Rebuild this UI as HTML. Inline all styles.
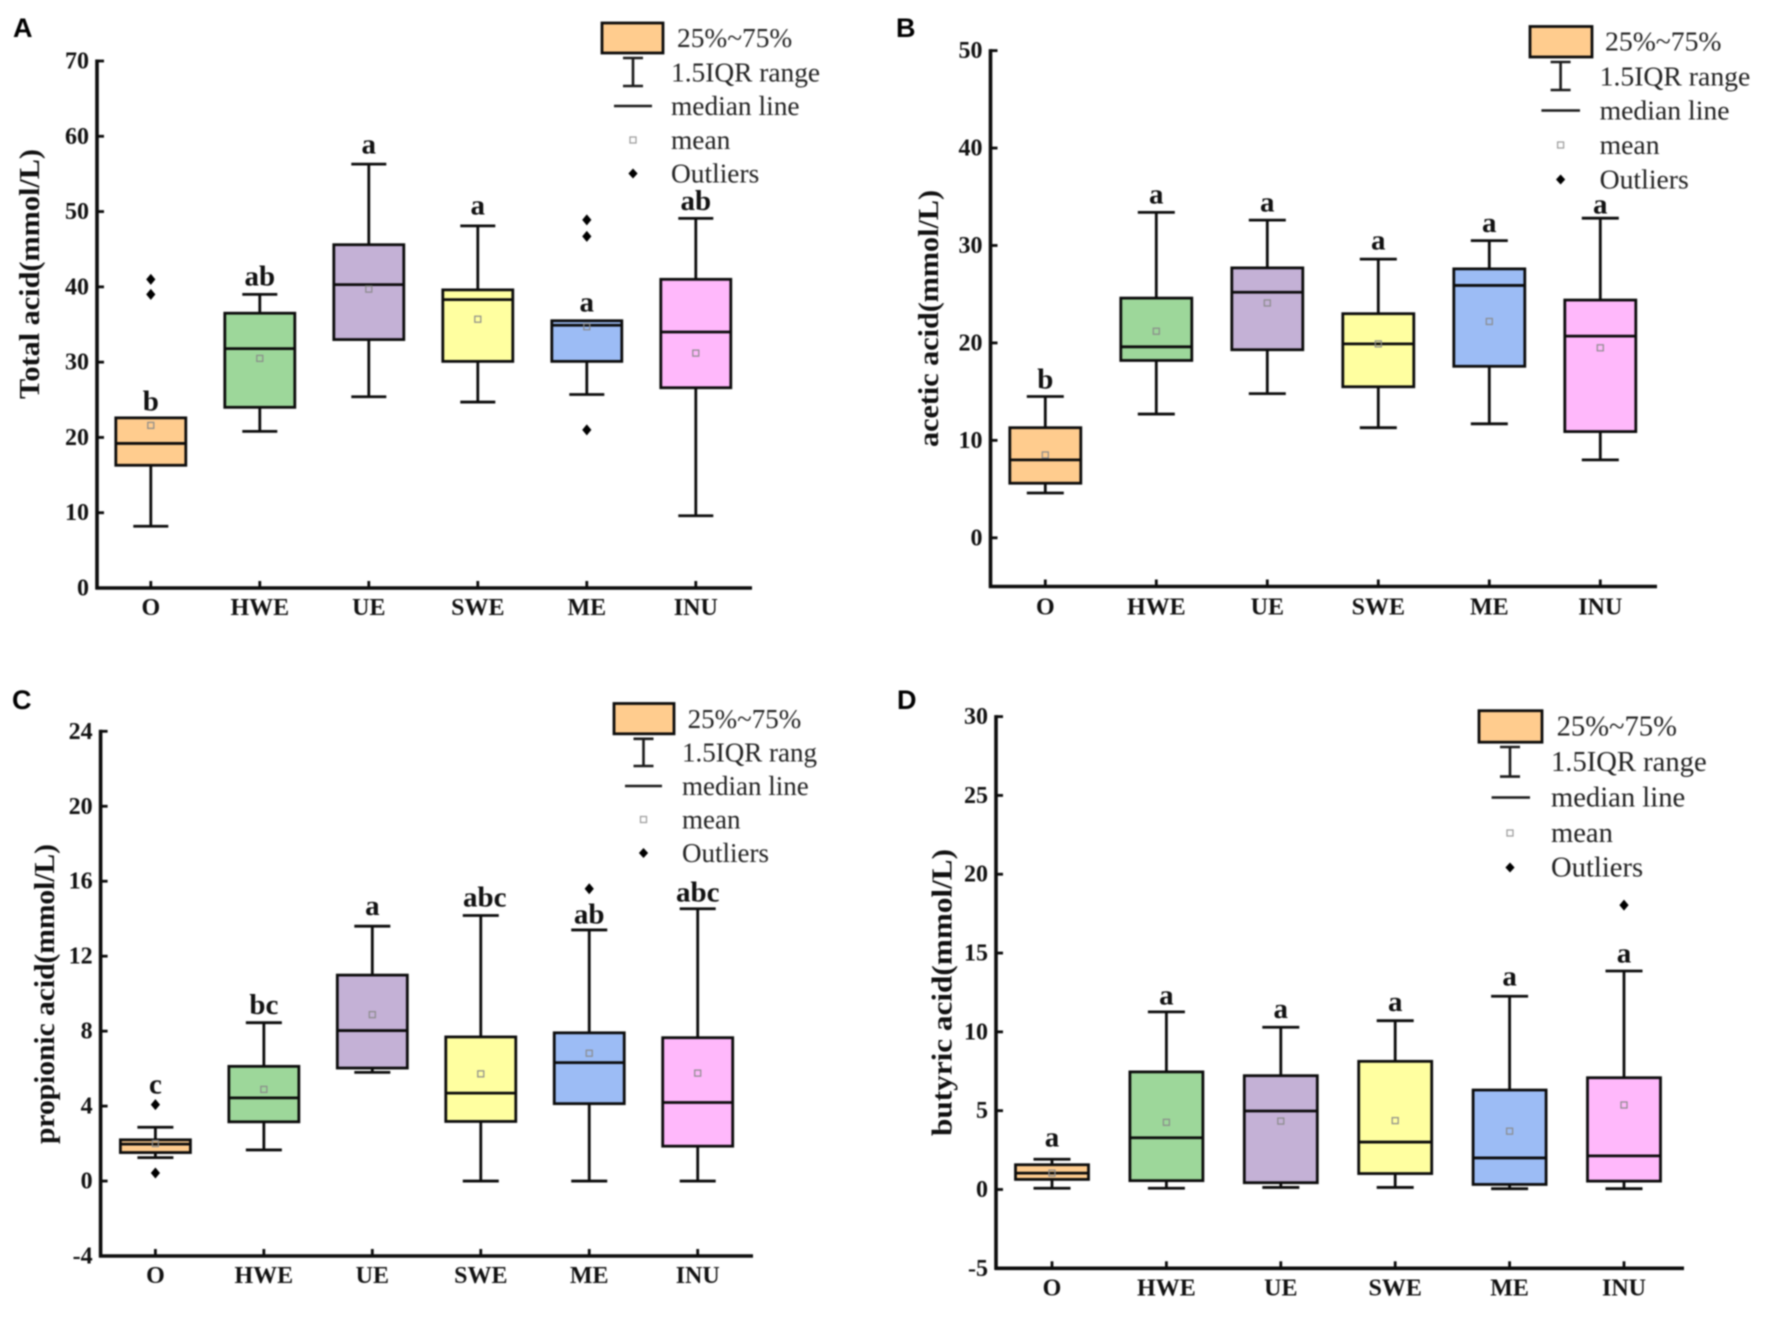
<!DOCTYPE html>
<html lang="en">
<head>
<meta charset="utf-8">
<title>Short-chain fatty acid box plots</title>
<style>
html,body{margin:0;padding:0;background:#fff;width:1772px;height:1318px;overflow:hidden}
#figure{display:block;width:1772px;height:1318px;filter:blur(0.7px)}
text{font-family:"Liberation Serif",serif;fill:#111}
.panel-letter{font-family:"Liberation Sans",sans-serif;font-weight:700;font-size:27px;fill:#000}
.tick,.cat,.axis-title,.sig{font-weight:700}
.tick,.cat{font-size:24px}
.sig{font-size:29px}
.axis-title{font-size:29px}
.legend-text{fill:#222}
</style>
</head>
<body>
<svg id="figure" xmlns="http://www.w3.org/2000/svg" width="1772" height="1318" viewBox="0 0 1772 1318"></svg>
<script>
// ---------- Shared data ----------
const categories = ['O', 'HWE', 'UE', 'SWE', 'ME', 'INU'];

// ---------- Panel A: total acid ----------
const aTicks = [0, 10, 20, 30, 40, 50, 60, 70];
const aLow = [8.2, 20.8, 25.4, 24.7, 25.7, 9.6];
const aQ1 = [16.3, 24, 33, 30.1, 30.1, 26.6];
const aMedian = [19.2, 31.8, 40.3, 38.3, 34.9, 34];
const aQ3 = [22.6, 36.5, 45.6, 39.6, 35.5, 41];
const aHigh = [22.6, 39, 56.3, 48.1, 35.5, 49.1];
const aMean = [21.6, 30.5, 39.7, 35.7, 34.7, 31.2];
const aOutliers = [[41, 39], [], [], [], [48.9, 46.7, 21], []];
const aLetters = ['b', 'ab', 'a', 'a', 'a', 'ab'];
const aLetterAt = [23.6, 40.2, 57.7, 49.6, 36.7, 50.2];

// ---------- Panel B: acetic acid ----------
const bTicks = [0, 10, 20, 30, 40, 50];
const bLow = [4.6, 12.7, 14.8, 11.3, 11.7, 8];
const bQ1 = [5.6, 18.2, 19.3, 15.5, 17.6, 10.9];
const bMedian = [8, 19.6, 25.2, 19.9, 25.9, 20.7];
const bQ3 = [11.3, 24.6, 27.7, 23, 27.6, 24.4];
const bHigh = [14.5, 33.4, 32.6, 28.6, 30.5, 32.8];
const bMean = [8.5, 21.2, 24.1, 19.9, 22.2, 19.5];
const bOutliers = [[], [], [], [], [], []];
const bLetters = ['b', 'a', 'a', 'a', 'a', 'a'];
const bLetterAt = [15.3, 34.3, 33.5, 29.6, 31.4, 33.3];

// ---------- Panel C: propionic acid ----------
const cTicks = [-4, 0, 4, 8, 12, 16, 20, 24];
const cLow = [1.25, 1.66, 5.8, 0, 0, 0];
const cQ1 = [1.52, 3.16, 6.03, 3.18, 4.13, 1.86];
const cMedian = [1.97, 4.44, 8.03, 4.69, 6.32, 4.19];
const cQ3 = [2.2, 6.12, 10.99, 7.69, 7.91, 7.65];
const cHigh = [2.87, 8.45, 13.6, 14.17, 13.4, 14.53];
const cMean = [2, 4.89, 8.88, 5.72, 6.82, 5.76];
const cOutliers = [[4.08, 0.43], [], [], [], [15.6], []];
const cLetters = ['c', 'bc', 'a', 'abc', 'ab', 'abc'];
const cLetterAt = [4.66, 8.92, 14.2, 14.64, 13.74, 14.93];

// ---------- Panel D: butyric acid ----------
const dTicks = [-5, 0, 5, 10, 15, 20, 25, 30];
const dLow = [0.08, 0.08, 0.13, 0.13, 0.05, 0.05];
const dQ1 = [0.64, 0.56, 0.43, 1.01, 0.32, 0.53];
const dMedian = [1.04, 3.28, 4.98, 3.01, 2, 2.13];
const dQ3 = [1.57, 7.46, 7.22, 8.13, 6.31, 7.09];
const dHigh = [1.92, 11.27, 10.29, 10.71, 12.26, 13.86];
const dMean = [1.04, 4.26, 4.34, 4.37, 3.7, 5.36];
const dOutliers = [[], [], [], [], [], [18.04]];
const dLetters = ['a', 'a', 'a', 'a', 'a', 'a'];
const dLetterAt = [2.74, 11.75, 10.87, 11.32, 12.95, 14.4];

const fills = ['#FFCC8E', '#9DD79A', '#C4B1D6', '#FFFFA0', '#9CBCF5', '#FFB8FB'];
const whiskerLabels = ['1.5IQR range', '1.5IQR range', '1.5IQR rang', '1.5IQR range'];

// ---------- Layout of each panel (geometry, not data) ----------
const panels = [
  {key: 'a', letter: 'A', letterX: 13, letterY: 37, title: 'Total acid(mmol/L)',
   axisX: 97, axisEnd: 752, firstX: 150.8, stepX: 109.0,
   vTop: 70, yTop: 61, vBase: 0, yBase: 588, boxW: 70, capW: 35,
   titleX: 30, titleCy: 274, titleLen: 250, sigShift: {}, catDy: 27,
   ticks: aTicks, low: aLow, q1: aQ1, med: aMedian, q3: aQ3, high: aHigh, mean: aMean, out: aOutliers, sig: aLetters, sigAt: aLetterAt,
   lg: {size: 27.4, boxX: 602, boxY: 23, boxW: 61, boxH: 30, firstTextX: 677, firstCy: 38, textX: 671, iconX: 633, wTop: 58, wBot: 86, medL: 614, medR: 652, rows: [72.5, 106, 140, 173.5]}},
  {key: 'b', letter: 'B', letterX: 896, letterY: 37, title: 'acetic acid(mmol/L)',
   axisX: 990.5, axisEnd: 1657, firstX: 1045.3, stepX: 111.0,
   vTop: 50, yTop: 50.6, vBase: 0, yBase: 537.8, boxW: 71, capW: 37,
   titleX: 929, titleCy: 318.5, titleLen: 257, axisY: 586.5, sigShift: {}, catDy: 28,
   ticks: bTicks, low: bLow, q1: bQ1, med: bMedian, q3: bQ3, high: bHigh, mean: bMean, out: bOutliers, sig: bLetters, sigAt: bLetterAt,
   lg: {size: 27.7, boxX: 1530, boxY: 26.5, boxW: 62, boxH: 30.5, firstTextX: 1605, firstCy: 41.5, textX: 1599.6, iconX: 1560.6, wTop: 62, wBot: 90, medL: 1541.4, medR: 1580, rows: [76.5, 110.5, 145, 179.5]}},
  {key: 'c', letter: 'C', letterX: 12, letterY: 709, title: 'propionic acid(mmol/L)',
   axisX: 100.6, axisEnd: 753, firstX: 155.4, stepX: 108.46,
   vTop: 24, yTop: 731.3, vBase: -4, yBase: 1256, boxW: 70, capW: 36,
   titleX: 45, titleCy: 994, titleLen: 300, sigShift: {3: 4}, catDy: 27,
   ticks: cTicks, low: cLow, q1: cQ1, med: cMedian, q3: cQ3, high: cHigh, mean: cMean, out: cOutliers, sig: cLetters, sigAt: cLetterAt,
   lg: {size: 27, boxX: 614, boxY: 703.5, boxW: 60, boxH: 30.3, firstTextX: 687.6, firstCy: 719, textX: 682, iconX: 643.5, wTop: 738.8, wBot: 766, medL: 625, medR: 662, rows: [752.5, 786, 819.5, 853]}},
  {key: 'd', letter: 'D', letterX: 897, letterY: 709, title: 'butyric acid(mmol/L)',
   axisX: 996, axisEnd: 1684, firstX: 1052, stepX: 114.4,
   vTop: 30, yTop: 716.6, vBase: -5, yBase: 1268.3, boxW: 73, capW: 37,
   titleX: 942.5, titleCy: 992.5, titleLen: 287, sigShift: {}, catDy: 27,
   ticks: dTicks, low: dLow, q1: dQ1, med: dMedian, q3: dQ3, high: dHigh, mean: dMean, out: dOutliers, sig: dLetters, sigAt: dLetterAt,
   lg: {size: 28.6, boxX: 1479, boxY: 710.7, boxW: 63, boxH: 31.5, firstTextX: 1556.6, firstCy: 726.5, textX: 1551, iconX: 1510, wTop: 747, wBot: 776.6, medL: 1491.6, medR: 1530, rows: [762, 797.5, 833, 867.5]}}
];

const svg = document.getElementById('figure');
const NS = 'http://www.w3.org/2000/svg';

function make(tag, attrs, parent, content) {
  const el = document.createElementNS(NS, tag);
  for (const k in attrs) el.setAttribute(k, attrs[k]);
  if (content !== undefined) el.textContent = content;
  parent.appendChild(el);
  return el;
}

function drawPanel(p) {
  // Axis functions
  const yScale = (p.yBase - p.yTop) / (p.vTop - p.vBase);
  const yOf = v => p.yBase - (v - p.vBase) * yScale;
  const xOf = i => p.firstX + i * p.stepX;
  const baseY = p.axisY !== undefined ? p.axisY : p.yBase;
  const dark = '#0c0c0c';
  const sw = 2.8;

  const g = make('g', {}, svg);
  
  

  const letter = make('text', {x: p.letterX, y: p.letterY, class: 'panel-letter'}, g, p.letter);
  
  

  // Axis lines
  const yAxis = make('path', {d: `M${p.axisX} ${Math.min(p.yTop, yOf(p.ticks[p.ticks.length - 1])) - 1.5}V${baseY + 1.5}`, stroke: dark, 'stroke-width': 3.6, fill: 'none'}, g);
  
  
  const xAxis = make('path', {d: `M${p.axisX - 1.5} ${baseY}H${p.axisEnd}`, stroke: dark, 'stroke-width': 3.6, fill: 'none'}, g);
  
  

  // Y ticks and labels
  p.ticks.forEach(v => {
    const y = yOf(v);
    const t = make('path', {d: `M${p.axisX} ${y}h7`, stroke: dark, 'stroke-width': 2.8}, g);
    
    
    const l = make('text', {x: p.axisX - 8, y: y + 7.5, 'text-anchor': 'end', class: 'tick'}, g, String(v));
    
    
  });

  // Y title
  const title = make('text', {
    x: 0, y: 0, 'text-anchor': 'middle', class: 'axis-title',
    transform: `translate(${p.titleX + 9} ${p.titleCy}) rotate(-90)`,
    textLength: p.titleLen, lengthAdjust: 'spacingAndGlyphs'
  }, g, p.title);
  
  

  // Boxes
  categories.forEach((cat, i) => {
    const x = xOf(i);
    const name = cat.toLowerCase();

    const tick = make('path', {d: `M${x} ${baseY}v-7`, stroke: dark, 'stroke-width': 2.8}, g);
    
    

    const cl = make('text', {x: x, y: baseY + p.catDy, 'text-anchor': 'middle', class: 'cat'}, g, cat);
    
    

    const whisker = make('path', {
      d: `M${x} ${yOf(p.low[i])}V${yOf(p.q1[i])}M${x} ${yOf(p.q3[i])}V${yOf(p.high[i])}` +
         `M${x - p.capW / 2} ${yOf(p.low[i])}h${p.capW}` +
         (p.high[i] > p.q3[i] ? `M${x - p.capW / 2} ${yOf(p.high[i])}h${p.capW}` : ''),
      stroke: dark, 'stroke-width': sw, fill: 'none'
    }, g);
    
    

    const box = make('rect', {
      x: x - p.boxW / 2, y: yOf(p.q3[i]), width: p.boxW, height: yOf(p.q1[i]) - yOf(p.q3[i]),
      fill: fills[i], stroke: dark, 'stroke-width': sw
    }, g);
    
    

    const med = make('path', {d: `M${x - p.boxW / 2} ${yOf(p.med[i])}h${p.boxW}`, stroke: dark, 'stroke-width': sw}, g);
    
    

    const mean = make('rect', {x: x - 3, y: yOf(p.mean[i]) - 3, width: 6, height: 6, fill: 'none', stroke: '#8a8a8a', 'stroke-width': 1.2}, g);
    
    

    p.out[i].forEach(v => {
      const y = yOf(v);
      const o = make('path', {d: `M${x} ${y - 5.5}l4.6 5.5l-4.6 5.5l-4.6 -5.5z`, fill: '#000'}, g);
      
      
    });

    const s = make('text', {x: x + (p.sigShift[i] || 0), y: yOf(p.sigAt[i]), 'text-anchor': 'middle', class: 'sig'}, g, p.sig[i]);
    
    
  });

  // Legend
  const L = p.lg;
  const lgGroup = make('g', {'font-size': L.size}, g);
  
  

  const swatch = make('rect', {x: L.boxX, y: L.boxY, width: L.boxW, height: L.boxH, fill: fills[0], stroke: dark, 'stroke-width': sw}, lgGroup);
  
  
  const t0 = make('text', {x: L.firstTextX, y: L.firstCy + 9, class: 'legend-text'}, lgGroup, '25%~75%');
  
  

  const wIcon = make('path', {d: `M${L.iconX} ${L.wTop}V${L.wBot}M${L.iconX - 10} ${L.wTop}h20M${L.iconX - 10} ${L.wBot}h20`, stroke: '#1a1a1a', 'stroke-width': 2.6, fill: 'none'}, lgGroup);
  
  
  const t1 = make('text', {x: L.textX, y: L.rows[0] + 9, class: 'legend-text'}, lgGroup, whiskerLabels[panels.indexOf(p)]);
  
  

  const mIcon = make('path', {d: `M${L.medL} ${L.rows[1]}H${L.medR}`, stroke: '#1a1a1a', 'stroke-width': 2.4}, lgGroup);
  
  
  const t2 = make('text', {x: L.textX, y: L.rows[1] + 9, class: 'legend-text'}, lgGroup, 'median line');
  
  

  const aIcon = make('rect', {x: L.iconX - 3, y: L.rows[2] - 3, width: 6, height: 6, fill: 'none', stroke: '#999', 'stroke-width': 1.2}, lgGroup);
  
  
  const t3 = make('text', {x: L.textX, y: L.rows[2] + 9, class: 'legend-text'}, lgGroup, 'mean');
  
  

  const oIcon = make('path', {d: `M${L.iconX} ${L.rows[3] - 5}l4.6 5l-4.6 5l-4.6 -5z`, fill: '#000'}, lgGroup);
  
  
  const t4 = make('text', {x: L.textX, y: L.rows[3] + 9, class: 'legend-text'}, lgGroup, 'Outliers');
  
  
}

panels.forEach(drawPanel);
</script>
</body>
</html>
